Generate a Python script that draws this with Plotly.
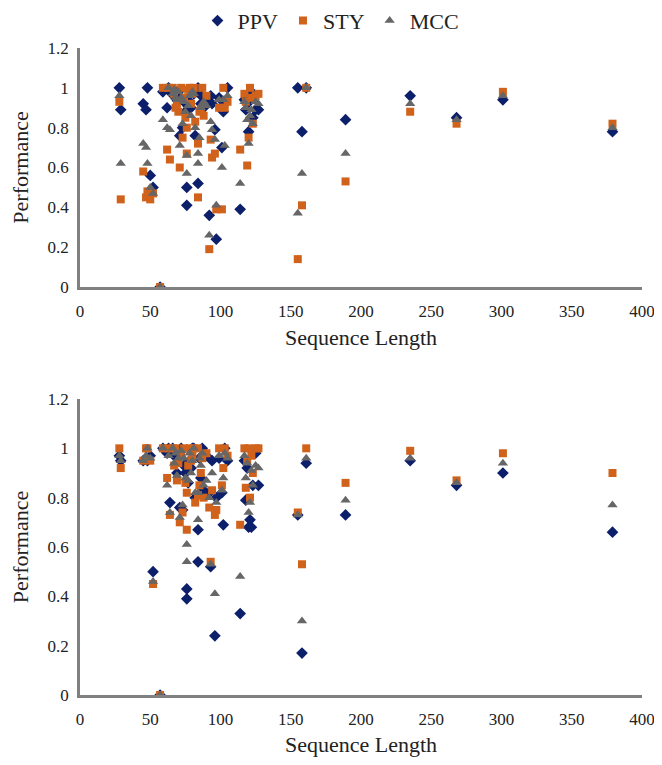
import plotly.graph_objects as go
from plotly.subplots import make_subplots

# Sequence length of each protein
lengths = [28, 29, 45, 47, 48, 50, 52, 57, 59, 62, 63, 64, 66, 67, 68, 69, 70, 71, 72, 73,
           74, 75, 76, 76, 77, 78, 79, 80, 81, 82, 84, 84, 85, 86, 87, 88, 90, 92, 93, 94,
           96, 97, 99, 101, 102, 103, 105, 114, 117, 118, 119, 120, 121, 122, 123, 125, 127,
           155, 158, 161, 189, 235, 268, 301, 379]

# Top panel
ppv_top = [1.00, 0.89, 0.92, 0.89, 1.00, 0.56, 0.50, 0.00, 0.98, 0.90, 1.00, 0.98, 0.97, 0.99, 0.95, 0.94, 0.98, 0.76, 0.95, 0.80,
           0.93, 0.88, 0.50, 0.41, 0.91, 0.93, 0.90, 0.98, 0.97, 0.76, 1.00, 0.52, 0.97, 0.92, 0.96, 0.90, 0.94, 0.36, 0.96, 0.92,
           0.79, 0.24, 0.95, 0.70, 0.88, 0.92, 1.00, 0.39, 0.94, 0.89, 0.92, 0.78, 0.95, 0.98, 0.85, 0.89, 0.89,
           1.00, 0.78, 1.00, 0.84, 0.96, 0.85, 0.94, 0.78]
sty_top = [0.93, 0.44, 0.58, 0.45, 0.48, 0.44, 0.47, 0.00, 1.00, 0.69, 1.00, 0.64, 1.00, 0.97, 0.90, 0.92, 0.88, 0.60, 1.00, 0.75,
           0.95, 0.85, 0.67, 0.80, 0.99, 1.00, 0.92, 0.97, 1.00, 0.83, 0.45, 0.72, 0.88, 0.89, 1.00, 0.86, 0.96, 0.19, 0.74, 0.65,
           0.67, 0.39, 0.90, 0.39, 1.00, 0.90, 0.93, 0.69, 0.97, 0.93, 0.61, 0.75, 1.00, 0.95, 0.82, 0.96, 0.97,
           0.14, 0.41, 1.00, 0.53, 0.88, 0.82, 0.98, 0.82]
mcc_top = [0.96, 0.62, 0.72, 0.70, 0.62, 0.50, 0.47, 0.00, 0.84, 0.80, 1.00, 0.79, 0.97, 0.99, 0.95, 0.94, 0.98, 0.71, 0.95, 0.82,
           0.93, 0.88, 0.57, 0.66, 0.91, 0.96, 0.86, 0.98, 0.97, 0.80, 0.62, 0.67, 0.75, 0.90, 0.92, 0.93, 0.91, 0.26, 0.83, 0.79,
           0.74, 0.41, 0.94, 0.60, 0.94, 0.71, 0.96, 0.52, 0.93, 0.90, 0.84, 0.72, 0.86, 0.89, 0.82, 0.93, 0.92,
           0.37, 0.57, 1.00, 0.67, 0.92, 0.84, 0.96, 0.80]

# Bottom panel
ppv_bot = [0.97, 0.95, 0.95, 0.96, 0.95, 0.97, 0.50, 0.00, 1.00, 0.98, 1.00, 0.78, 1.00, 0.97, 0.98, 0.90, 0.96, 0.76, 1.00, 0.75,
           0.93, 0.90, 0.43, 0.39, 0.86, 0.95, 0.92, 1.00, 1.00, 0.80, 0.54, 0.67, 0.96, 0.88, 1.00, 0.83, 0.97, 0.82, 0.52, 0.95,
           0.24, 0.80, 0.96, 0.82, 0.69, 1.00, 0.95, 0.33, 0.95, 0.79, 0.92, 0.68, 0.71, 0.68, 0.85, 0.98, 0.85,
           0.73, 0.17, 0.94, 0.73, 0.95, 0.85, 0.90, 0.66]
sty_bot = [1.00, 0.92, 0.95, 1.00, 1.00, 0.95, 0.45, 0.00, 1.00, 0.88, 1.00, 0.73, 1.00, 0.93, 1.00, 0.87, 0.94, 0.70, 0.97, 0.74,
           1.00, 0.86, 0.67, 0.82, 0.93, 1.00, 0.95, 0.97, 1.00, 0.78, 0.81, 1.00, 0.85, 0.90, 0.96, 0.80, 0.98, 0.76, 0.54, 0.83,
           0.73, 0.75, 1.00, 0.85, 0.92, 1.00, 0.97, 0.69, 1.00, 0.84, 0.95, 1.00, 0.80, 0.97, 0.90, 1.00, 1.00,
           0.74, 0.53, 1.00, 0.86, 0.99, 0.87, 0.98, 0.90]
mcc_bot = [0.97, 0.95, 0.95, 0.97, 1.00, 0.96, 0.46, 0.00, 1.00, 0.85, 0.97, 0.74, 1.00, 0.94, 0.98, 0.89, 0.96, 0.72, 0.99, 0.77,
           0.96, 0.88, 0.61, 0.54, 0.87, 0.98, 0.90, 0.95, 1.00, 0.82, 0.71, 0.82, 0.96, 0.93, 0.98, 0.85, 0.87, 0.80, 0.53, 0.90,
           0.41, 0.78, 0.97, 0.83, 0.88, 0.98, 0.96, 0.48, 0.97, 0.88, 0.94, 0.74, 0.78, 0.91, 0.85, 0.93, 0.92,
           0.73, 0.30, 0.96, 0.79, 0.96, 0.86, 0.94, 0.77]

series_names = ["PPV", "STY", "MCC"]
colors = ["#0b1f6b", "#d0621b", "#666666"]
symbols = ["diamond", "square", "triangle-up"]
sizes = [9, 8, 9]

fig = make_subplots(rows=2, cols=1)
fig.update_layout(
    xaxis=dict(domain=[0, 1]), yaxis=dict(domain=[0.6306, 1.0]),
    xaxis2=dict(domain=[0, 1]), yaxis2=dict(domain=[0.0, 0.4575]),
)

panels = [(ppv_top, sty_top, mcc_top), (ppv_bot, sty_bot, mcc_bot)]
for r, vals in enumerate(panels, start=1):
    for i, name in enumerate(series_names):
        fig.add_trace(go.Scatter(
            x=lengths, y=vals[i], mode="markers", name=name,
            legendgroup=name, showlegend=(r == 1),
            marker=dict(symbol=symbols[i], color=colors[i], size=sizes[i], line=dict(width=0)),
        ), row=r, col=1)

font_family = "Liberation Serif, Times New Roman, serif"
for r in (1, 2):
    fig.update_xaxes(range=[0, 400], tickvals=[0, 50, 100, 150, 200, 250, 300, 350, 400],
                     showgrid=False, zeroline=False, showline=True, linecolor="#808080", linewidth=2.5,
                     ticks="", ticklabelstandoff=7, automargin=False, ticklabeloverflow="allow",
                     tickfont=dict(family=font_family, size=17, color="#222"),
                     title=dict(text="Sequence Length", font=dict(family=font_family, size=22, color="#222"), standoff=10),
                     row=r, col=1)
    fig.update_yaxes(range=[0, 1.2], tickvals=[0, 0.2, 0.4, 0.6, 0.8, 1.0, 1.2],
                     ticktext=["0", "0.2", "0.4", "0.6", "0.8", "1", "1.2"],
                     showgrid=False, zeroline=False, showline=True, linecolor="#808080", linewidth=2.5,
                     ticks="", ticklabelstandoff=5, automargin=False, ticklabeloverflow="allow",
                     tickfont=dict(family=font_family, size=17, color="#222"),
                     title=dict(text="Performance", font=dict(family=font_family, size=22, color="#222"), standoff=14),
                     row=r, col=1)

fig.update_layout(
    width=646, height=749,
    margin=dict(l=72, r=12, t=40, b=62),
    paper_bgcolor="white", plot_bgcolor="white",
    font=dict(family=font_family, color="#222"),
    legend=dict(orientation="h", x=0.5, xanchor="center", xref="container",
                y=0.983, yanchor="middle", yref="container",
                font=dict(family=font_family, size=22, color="#222"),
                itemwidth=30, tracegroupgap=0),
)

fig.write_html("out.html")
